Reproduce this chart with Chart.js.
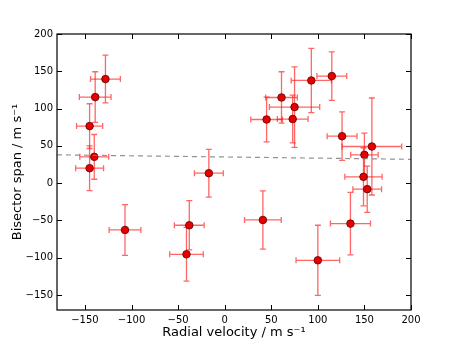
<!DOCTYPE html>
<html>
<head>
<meta charset="utf-8">
<script src="https://cdn.jsdelivr.net/npm/chart.js@4"></script>
<style>
  html, body { margin: 0; padding: 0; background: #fff; }
  #wrap { width: 457px; height: 345px; }
</style>
</head>
<body>
<div id="wrap"><canvas id="rvChart" width="457" height="345"></canvas></div>
<script>
// radial velocity vs bisector span, with errors
var rv     = [-128, -139, -145, -140, -145, -107, -38, -41, -17, 41, 45, 61, 73, 75, 93, 115, 126, 158, 150, 149, 153, 135, 100];
var rvErr  = [16, 17, 14, 15.5, 15, 17, 16, 18, 15.5, 19.7, 17, 17, 16.5, 27, 21.6, 16, 16, 32, 14.7, 20, 15.4, 21.5, 23.4];
var bis    = [139.6, 115.4, 76.5, 35.3, 20.1, -62.7, -56.4, -95.3, 13.4, -49.3, 85.4, 114.9, 86, 102, 137.7, 143.6, 63, 49.2, 38, 8.5, -8, -54.2, -103.4];
var bisErr = [32, 34, 30, 30, 30, 34, 33, 36, 32, 39, 30, 34.5, 32, 54, 43, 32.5, 32.5, 65, 29, 39, 31, 42, 47];

// dashed linear fit
var fitX = [-180, 200];
var fitY = [38, 32];

var xTicks = [-150, -100, -50, 0, 50, 100, 150, 200];
var yTicks = [-150, -100, -50, 0, 50, 100, 150, 200];

var ctx = document.getElementById("rvChart");

var points = rv.map(function (v, i) { return { x: v, y: bis[i] }; });
var fitLine = fitX.map(function (v, i) { return { x: v, y: fitY[i] }; });

function minusSign(v) {
    return String(v).replace("-", "\u2212");
}

var errorBars = {
    id: 'errorBars',
    beforeDatasetsDraw: function (chart) {
        var c = chart.ctx;
        var xs = chart.scales.x, ys = chart.scales.y;
        c.save();
        c.strokeStyle = 'rgba(255, 20, 20, 0.65)';
        c.lineWidth = 1.3;
        var cap = 3;
        for (var i = 0; i < rv.length; i++) {
            var px = xs.getPixelForValue(rv[i]);
            var py = ys.getPixelForValue(bis[i]);
            var x0 = xs.getPixelForValue(rv[i] - rvErr[i]);
            var x1 = xs.getPixelForValue(rv[i] + rvErr[i]);
            var y0 = ys.getPixelForValue(bis[i] - bisErr[i]);
            var y1 = ys.getPixelForValue(bis[i] + bisErr[i]);
            c.beginPath();
            c.moveTo(x0, py); c.lineTo(x1, py);
            c.moveTo(x0, py - cap); c.lineTo(x0, py + cap);
            c.moveTo(x1, py - cap); c.lineTo(x1, py + cap);
            c.moveTo(px, y0); c.lineTo(px, y1);
            c.moveTo(px - cap, y0); c.lineTo(px + cap, y0);
            c.moveTo(px - cap, y1); c.lineTo(px + cap, y1);
            c.stroke();
        }
        c.restore();
    }
};

// box around the plot with inward ticks on all sides
var frame = {
    id: 'frame',
    afterDraw: function (chart) {
        var c = chart.ctx;
        var a = chart.chartArea;
        var xs = chart.scales.x, ys = chart.scales.y;
        c.save();
        c.strokeStyle = '#000';
        c.lineWidth = 1;
        c.beginPath();
        xTicks.forEach(function (t) {
            var p = Math.round(xs.getPixelForValue(t)) + 0.5;
            c.moveTo(p, a.bottom); c.lineTo(p, a.bottom - 5);
            c.moveTo(p, a.top); c.lineTo(p, a.top + 5);
        });
        yTicks.forEach(function (t) {
            var p = Math.round(ys.getPixelForValue(t)) + 0.5;
            c.moveTo(a.left, p); c.lineTo(a.left + 5, p);
            c.moveTo(a.right, p); c.lineTo(a.right - 5, p);
        });
        c.stroke();
        c.lineWidth = 1.2;
        c.strokeRect(a.left, a.top, a.right - a.left, a.bottom - a.top);
        c.restore();
    }
};

const config = {
    type: 'scatter',
    data: {
        datasets: [
            {
                data: fitLine,
                showLine: true,
                borderColor: 'rgba(120, 120, 120, 0.8)',
                borderWidth: 1.2,
                borderDash: [5, 4],
                pointRadius: 0
            },
            {
                data: points,
                backgroundColor: '#e60000',
                borderColor: '#5a0000',
                borderWidth: 0.8,
                pointRadius: 3.8
            }
        ]
    },
    options: {
        responsive: false,
        animation: false,
        layout: {
            padding: { left: 0, right: 46, top: 34, bottom: 0 }
        },
        plugins: {
            legend: { display: false },
            tooltip: { enabled: false }
        },
        scales: {
            x: {
                type: 'linear',
                min: -180,
                max: 200,
                afterBuildTicks: function (axis) {
                    axis.ticks = xTicks.map(function (v) { return { value: v }; });
                },
                afterFit: function (axis) { axis.height = 35; },
                grid: { display: false, drawTicks: false },
                border: { display: false },
                ticks: {
                    padding: 4,
                    color: '#000',
                    font: { family: 'DejaVu Sans', size: 10 },
                    callback: minusSign
                },
                title: {
                    display: true,
                    text: 'Radial velocity / m s\u207B\u00B9',
                    color: '#000',
                    font: { family: 'DejaVu Sans', size: 13 },
                    padding: { top: 0, bottom: 5 }
                }
            },
            y: {
                type: 'linear',
                min: -170,
                max: 200,
                afterBuildTicks: function (axis) {
                    axis.ticks = yTicks.map(function (v) { return { value: v }; });
                },
                afterFit: function (axis) { axis.width = 57; },
                grid: { display: false, drawTicks: false },
                border: { display: false },
                ticks: {
                    padding: 4,
                    color: '#000',
                    font: { family: 'DejaVu Sans', size: 10 },
                    callback: minusSign
                },
                title: {
                    display: true,
                    text: 'Bisector span / m s\u207B\u00B9',
                    color: '#000',
                    font: { family: 'DejaVu Sans', size: 13 },
                    padding: { top: 10, bottom: 0 }
                }
            }
        }
    },
    plugins: [errorBars, frame]
};

new Chart(ctx, config);
</script>
</body>
</html>
